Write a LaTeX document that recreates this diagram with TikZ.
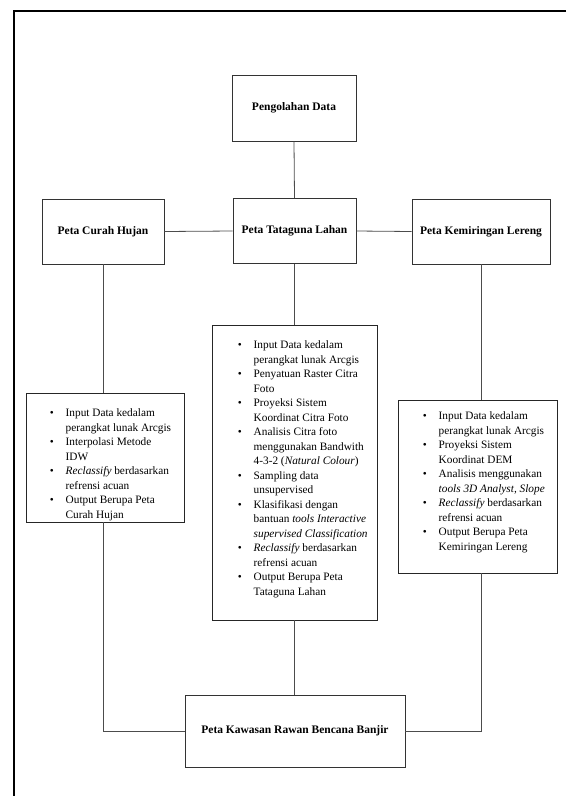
\documentclass[tikz,border=0pt]{standalone}
\usepackage{fontspec}
\setmainfont{Liberation Serif}
\tikzset{
  box/.style={draw=black!80, line width=0.9pt, inner sep=0pt, align=center,
    font=\fontsize{11.5}{13}\selectfont\bfseries},
  listbox/.style={draw=black!85, line width=0.9pt, inner sep=0pt},
  listtext/.style={inner sep=0pt, anchor=north west,
    font=\fontsize{11.3}{14.5}\selectfont},
  conn/.style={draw=black!70, line width=0.8pt},
  frame/.style={draw=black, line width=2.4pt}
}
\newcommand{\bitem}{\textbullet}
\newenvironment{blist}{\begin{tabular}{@{}l@{\hspace{12pt}}l@{}}}{\end{tabular}}
\begin{document}
\begin{tikzpicture}[x=1pt,y=-1pt]
\useasboundingbox (0,0) rectangle (566,796);
% frame (top and left only)
\coordinate (fr1) at (566,11);
\coordinate (fr2) at (14,11);
\coordinate (fr3) at (14,796);
\draw[frame] (fr1) -- (fr2) -- (fr3);

% title boxes
\node[box, minimum width=124pt, minimum height=66pt] (peng) at (294,108) {Pengolahan Data};
\node[box, minimum width=122pt, minimum height=65pt] (curah) at (103,231.5) {Peta Curah Hujan};
\node[box, minimum width=123pt, minimum height=65pt] (tata) at (294.5,231) {Peta Tataguna Lahan};
\node[box, minimum width=138pt, minimum height=65pt] (kem) at (481,231.5) {Peta Kemiringan Lereng};
\node[box, minimum width=220pt, minimum height=72pt] (bot) at (295,731) {Peta Kawasan Rawan Bencana Banjir};

% list boxes
\node[listbox, minimum width=158pt, minimum height=129pt] (lbox) at (105,457.5) {};
\node[listbox, minimum width=165pt, minimum height=295pt] (mbox) at (294.5,472.5) {};
\node[listbox, minimum width=159pt, minimum height=173pt] (rbox) at (477.5,486.5) {};

\node[listtext] (ltxt) at ([xshift=24pt,yshift=-14pt]lbox.north west) {%
\begin{blist}
\bitem & Input Data kedalam\\
 & perangkat lunak Arcgis\\
\bitem & Interpolasi Metode\\
 & IDW\\
\bitem & \textit{Reclassify} berdasarkan\\
 & refrensi acuan\\
\bitem & Output Berupa Peta\\
 & Curah Hujan
\end{blist}};

\node[listtext] (mtxt) at ([xshift=26pt,yshift=-14pt]mbox.north west) {%
\begin{blist}
\bitem & Input Data kedalam\\
 & perangkat lunak Arcgis\\
\bitem & Penyatuan Raster Citra\\
 & Foto\\
\bitem & Proyeksi Sistem\\
 & Koordinat Citra Foto\\
\bitem & Analisis Citra foto\\
 & menggunakan Bandwith\\
 & 4-3-2 (\textit{Natural Colour})\\
\bitem & Sampling data\\
 & unsupervised\\
\bitem & Klasifikasi dengan\\
 & bantuan \textit{tools Interactive}\\
 & \textit{supervised Classification}\\
\bitem & \textit{Reclassify} berdasarkan\\
 & refrensi acuan\\
\bitem & Output Berupa Peta\\
 & Tataguna Lahan
\end{blist}};

\node[listtext] (rtxt) at ([xshift=25pt,yshift=-10pt]rbox.north west) {%
\begin{blist}
\bitem & Input Data kedalam\\
 & perangkat lunak Arcgis\\
\bitem & Proyeksi Sistem\\
 & Koordinat DEM\\
\bitem & Analisis menggunakan\\
 & \textit{tools 3D Analyst, Slope}\\
\bitem & \textit{Reclassify} berdasarkan\\
 & refrensi acuan\\
\bitem & Output Berupa Peta\\
 & Kemiringan Lereng
\end{blist}};

% connectors
\draw[conn] (peng.south) -- (tata.north);
\draw[conn] (curah.east) -- (tata.west);
\draw[conn] (tata.east) -- (kem.west);
\draw[conn] (curah.south) -- (curah.south |- lbox.north);
\draw[conn] (tata.south) -- (tata.south |- mbox.north);
\draw[conn] (kem.south) -- (kem.south |- rbox.north);
\draw[conn] (curah.south |- lbox.south) |- (bot.west);
\draw[conn] (mbox.south) -- (mbox.south |- bot.north);
\draw[conn] (kem.south |- rbox.south) |- (bot.east);
\end{tikzpicture}
\end{document}
